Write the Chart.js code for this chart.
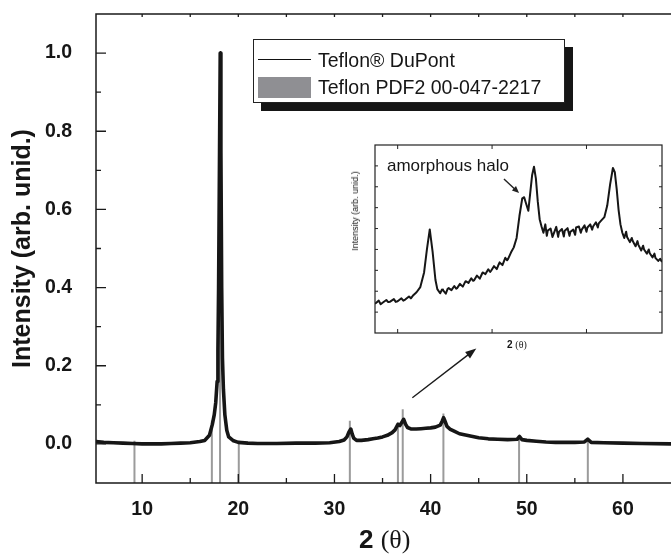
<!DOCTYPE html>
<html>
<head>
<meta charset="utf-8">
<script src="https://cdn.jsdelivr.net/npm/chart.js@4.4.1/dist/chart.umd.min.js"></script>
<style>
  body { margin: 0; background: #fff; }
  #wrap { position: relative; width: 671px; height: 555px; overflow: hidden; background: #fff; }
  canvas { position: absolute; }
  .lab { position: absolute; white-space: nowrap; font-family: "Liberation Sans", Arial, sans-serif; color: #161616; }
  .serif { font-family: "Liberation Serif", "Times New Roman", serif; font-weight: normal; }
</style>
</head>
<body>
<div id="wrap">
  <canvas id="main" width="671" height="555" style="left:0;top:0"></canvas>
  <canvas id="inset" width="331" height="220" style="left:340px;top:140px"></canvas>

  <div style="position:absolute;left:253px;top:39px;width:310px;height:62px;border:1px solid #222;background:#fff;box-shadow:8px 8px 0 #161616;">
    <div style="position:absolute;left:4px;top:19px;width:53px;border-top:1.5px solid #111"></div>
    <div style="position:absolute;left:4px;top:37px;width:53px;height:21px;background:#8f8f93"></div>
    <span class="lab" id="leg0" style="left:64px;top:9px;font-size:19.5px;line-height:22px"></span>
    <span class="lab" id="leg1" style="left:64px;top:36px;font-size:19.5px;line-height:22px"></span>
  </div>

  <div class="lab" style="left:359px;top:526px;font-size:26px;line-height:26px;font-weight:bold">2 <span class="serif">(&theta;)</span></div>

  <div class="lab" style="left:387px;top:156px;font-size:17px;line-height:20px">amorphous halo</div>
  <div class="lab" style="left:355px;top:211px;font-size:9px;line-height:10px;transform:translate(-50%,-50%) rotate(-90deg)">Intensity (arb. unid.)</div>
  <div class="lab" style="left:507px;top:339px;font-size:10px;line-height:12px;font-weight:bold">2 <span class="serif">(&theta;)</span></div>
</div>

<script>
// series names
const seriesNames = ['Teflon® DuPont', 'Teflon PDF2 00-047-2217'];

// measured pattern (2 theta, normalised intensity)
const mainTheta = [5.2, 6, 7, 8, 9, 10, 11, 12, 13, 14, 15, 16, 16.5, 17.0, 17.3, 17.5, 17.65, 17.8, 17.88, 17.95,
  18.05, 18.12, 18.19, 18.27, 18.35, 18.45, 18.6, 18.8, 19.0, 19.5, 20.0, 21, 22, 24, 26, 28, 29.5, 30.5, 31.0, 31.3,
  31.5, 31.7, 31.85, 32.0, 32.3, 32.8, 33.5, 34.0, 34.5, 35.0, 35.5, 36.0, 36.3, 36.6, 36.8, 37.0, 37.2, 37.4, 37.6, 38.0,
  38.5, 39.0, 39.5, 40.0, 40.5, 41.0, 41.2, 41.35, 41.5, 41.7, 42.0, 42.5, 43.0, 44.0, 45.0, 46.0, 47.0, 48.0, 49.0, 49.25,
  49.5, 50.0, 51.0, 52.0, 53.0, 54.0, 55.0, 56.0, 56.35, 56.7, 58.0, 60.0, 62.0, 65.0];
const mainIntensity = [0.006, 0.004, 0.003, 0.002, 0.001, 0.0, 0.0, 0.0, 0.001, 0.002, 0.003, 0.006, 0.009, 0.022, 0.05, 0.075, 0.105, 0.16, 0.24, 0.4,
  0.75, 1.0, 0.75, 0.4, 0.22, 0.14, 0.075, 0.035, 0.018, 0.008, 0.004, 0.002, 0.001, 0.001, 0.002, 0.002, 0.003, 0.006, 0.01, 0.018,
  0.03, 0.038, 0.025, 0.015, 0.009, 0.009, 0.011, 0.013, 0.015, 0.018, 0.022, 0.029, 0.036, 0.05, 0.047, 0.055, 0.063, 0.05, 0.042, 0.038,
  0.038, 0.039, 0.04, 0.041, 0.043, 0.048, 0.058, 0.067, 0.058, 0.045, 0.038, 0.032, 0.026, 0.021, 0.016, 0.013, 0.012, 0.011, 0.012, 0.019,
  0.011, 0.009, 0.007, 0.005, 0.004, 0.004, 0.004, 0.005, 0.012, 0.004, 0.003, 0.002, 0.001, 0.0];

// reference card PDF2 00-047-2217
const stickTheta = [9.2, 17.25, 18.1, 20.05, 31.6, 36.6, 37.1, 41.33, 49.2, 56.35];
const stickIntensity = [0.008, 0.06, 1.0, 0.008, 0.059, 0.055, 0.089, 0.078, 0.016, 0.013];
const stickBase = -0.1;

// inset: zoom of 29-44 degrees (arbitrary units)
const insetTheta = [28.8, 29.0, 29.1, 29.2, 29.4, 29.5, 29.6, 29.8, 29.9, 30.0, 30.2, 30.3, 30.4, 30.6, 30.7, 30.8, 31.0, 31.2, 31.4, 31.55,
  31.7, 31.85, 32.0, 32.1, 32.25, 32.35, 32.4, 32.55, 32.65, 32.7, 32.85, 33.0, 33.1, 33.15, 33.3, 33.45, 33.55, 33.6, 33.75, 33.9,
  34.0, 34.05, 34.2, 34.35, 34.45, 34.5, 34.65, 34.8, 34.9, 34.95, 35.1, 35.25, 35.35, 35.4, 35.55, 35.7, 35.8, 35.85, 36.0, 36.15,
  36.3, 36.45, 36.6, 36.7, 36.8, 36.92, 37.02, 37.12, 37.22, 37.32, 37.42, 37.52, 37.62, 37.72, 37.82, 37.9, 37.95, 38.1, 38.2, 38.25,
  38.4, 38.5, 38.55, 38.7, 38.8, 38.85, 39.0, 39.1, 39.15, 39.3, 39.4, 39.45, 39.6, 39.7, 39.75, 39.9, 40.0, 40.05, 40.2, 40.3,
  40.35, 40.5, 40.6, 40.65, 40.8, 40.95, 41.1, 41.25, 41.4, 41.5, 41.6, 41.7, 41.8, 41.9, 42.0, 42.1, 42.15, 42.3, 42.4, 42.45,
  42.6, 42.7, 42.75, 42.9, 43.0, 43.05, 43.2, 43.3, 43.35, 43.5, 43.6, 43.65, 43.8, 43.9, 44.0];
const insetIntensity = [1.40, 1.55, 1.38, 1.45, 1.58, 1.48, 1.50, 1.62, 1.49, 1.52, 1.66, 1.55, 1.60, 1.75, 1.66, 1.78, 1.95, 2.20, 2.90, 4.00,
  4.96, 3.90, 2.55, 2.10, 1.90, 2.08, 2.05, 1.88, 2.12, 2.15, 2.05, 2.25, 2.12, 2.15, 2.35, 2.22, 2.40, 2.48, 2.40, 2.62,
  2.50, 2.52, 2.75, 2.60, 2.80, 2.90, 2.82, 3.05, 2.92, 2.98, 3.20, 3.06, 3.28, 3.38, 3.25, 3.60, 3.48, 3.55, 3.85, 4.10,
  4.55, 5.60, 6.45, 6.50, 6.20, 5.85, 6.70, 7.55, 7.96, 7.40, 6.30, 5.45, 5.10, 4.80, 5.20, 4.65, 4.90, 5.00, 4.60, 4.72,
  5.08, 4.60, 4.85, 4.98, 4.62, 4.90, 5.02, 4.65, 4.85, 4.95, 4.70, 5.05, 5.10, 4.80, 4.95, 5.15, 4.85, 5.05, 5.20, 4.95,
  5.10, 5.30, 5.05, 5.25, 5.40, 5.55, 6.10, 7.10, 7.90, 7.70, 6.90, 5.90, 5.20, 4.80, 4.55, 4.85, 4.60, 4.35, 4.55, 4.40,
  4.15, 4.40, 4.22, 3.95, 4.18, 4.00, 3.80, 4.00, 3.82, 3.62, 3.80, 3.60, 3.45, 3.55, 3.40];

// axes
const xTickVals = [10, 20, 30, 40, 50, 60];
const xMinorVals = [15, 25, 35, 45, 55];
const yTickVals = [0, 0.2, 0.4, 0.6, 0.8, 1.0];
const yMinorVals = [0.1, 0.3, 0.5, 0.7, 0.9];
const insetXTicks = [30, 35, 40];
const insetYTicks = [1, 2, 3, 4, 5, 6, 7, 8];

// arrows (data coords)
const bigArrow = [[38.1, 0.118], [44.75, 0.244]];
const haloArrow = [[35.63, 7.37], [36.43, 6.70]];

document.getElementById('leg0').textContent = seriesNames[0];
document.getElementById('leg1').textContent = seriesNames[1];

const mainData = mainTheta.map((x, i) => ({x: x, y: mainIntensity[i]}));
const stickData = [];
stickTheta.forEach((x, i) => {
  stickData.push({x: x, y: stickBase}, {x: x, y: stickIntensity[i]}, {x: x, y: null});
});
const insetData = insetTheta.map((x, i) => ({x: x, y: insetIntensity[i]}));

function arrow(ctx, x1, y1, x2, y2, len, half) {
  const a = Math.atan2(y2 - y1, x2 - x1);
  ctx.beginPath();
  ctx.moveTo(x1, y1);
  ctx.lineTo(x2 - Math.cos(a) * len * 0.8, y2 - Math.sin(a) * len * 0.8);
  ctx.stroke();
  ctx.beginPath();
  ctx.moveTo(x2, y2);
  ctx.lineTo(x2 - Math.cos(a) * len - Math.sin(a) * half, y2 - Math.sin(a) * len + Math.cos(a) * half);
  ctx.lineTo(x2 - Math.cos(a) * len + Math.sin(a) * half, y2 - Math.sin(a) * len - Math.cos(a) * half);
  ctx.closePath();
  ctx.fill();
}

const mainFrame = {
  id: 'mainFrame',
  afterDraw(chart) {
    const ctx = chart.ctx, a = chart.chartArea;
    const xs = chart.scales.x, ys = chart.scales.y;
    ctx.save();
    ctx.strokeStyle = '#1a1a1a';
    ctx.fillStyle = '#1a1a1a';
    ctx.lineWidth = 1.5;
    ctx.beginPath();
    ctx.moveTo(a.right + 2, a.top); ctx.lineTo(a.left, a.top);
    ctx.lineTo(a.left, a.bottom); ctx.lineTo(a.right + 2, a.bottom);
    ctx.stroke();
    ctx.lineWidth = 1.3;
    ctx.beginPath();
    xTickVals.forEach(v => {
      const p = xs.getPixelForValue(v);
      ctx.moveTo(p, a.bottom); ctx.lineTo(p, a.bottom - 9);
      ctx.moveTo(p, a.top); ctx.lineTo(p, a.top + 3);
    });
    xMinorVals.forEach(v => {
      const p = xs.getPixelForValue(v);
      ctx.moveTo(p, a.bottom); ctx.lineTo(p, a.bottom - 5);
      ctx.moveTo(p, a.top); ctx.lineTo(p, a.top + 3);
    });
    yTickVals.forEach(v => {
      const p = ys.getPixelForValue(v);
      ctx.moveTo(a.left, p); ctx.lineTo(a.left + 10, p);
    });
    yMinorVals.forEach(v => {
      const p = ys.getPixelForValue(v);
      ctx.moveTo(a.left, p); ctx.lineTo(a.left + 5, p);
    });
    ctx.stroke();
    ctx.lineWidth = 1.4;
    arrow(ctx, xs.getPixelForValue(bigArrow[0][0]), ys.getPixelForValue(bigArrow[0][1]),
      xs.getPixelForValue(bigArrow[1][0]), ys.getPixelForValue(bigArrow[1][1]), 11, 4);
    ctx.restore();
  }
};

const insetFrame = {
  id: 'insetFrame',
  afterDraw(chart) {
    const ctx = chart.ctx, a = chart.chartArea;
    const xs = chart.scales.x, ys = chart.scales.y;
    ctx.save();
    ctx.strokeStyle = '#222';
    ctx.fillStyle = '#222';
    ctx.lineWidth = 1.2;
    ctx.strokeRect(a.left, a.top, a.right - a.left, a.bottom - a.top);
    ctx.lineWidth = 1;
    ctx.beginPath();
    insetXTicks.forEach(v => {
      const p = xs.getPixelForValue(v);
      ctx.moveTo(p, a.bottom); ctx.lineTo(p, a.bottom - 4);
      ctx.moveTo(p, a.top); ctx.lineTo(p, a.top + 4);
    });
    insetYTicks.forEach(v => {
      const p = ys.getPixelForValue(v);
      ctx.moveTo(a.left, p); ctx.lineTo(a.left + 3, p);
      ctx.moveTo(a.right, p); ctx.lineTo(a.right - 3, p);
    });
    ctx.stroke();
    ctx.lineWidth = 1.4;
    arrow(ctx, xs.getPixelForValue(haloArrow[0][0]), ys.getPixelForValue(haloArrow[0][1]),
      xs.getPixelForValue(haloArrow[1][0]), ys.getPixelForValue(haloArrow[1][1]), 7, 3);
    ctx.restore();
  }
};

const tickFont = {family: '"Liberation Sans", Arial, sans-serif', weight: 'bold', size: 19.5};

new Chart(document.getElementById('main'), {
  type: 'line',
  data: {
    datasets: [
      {label: seriesNames[0], data: mainData, borderColor: '#161616', borderWidth: 3.6, pointRadius: 0,
        borderJoinStyle: 'round', borderCapStyle: 'round', order: 0},
      {label: seriesNames[1], data: stickData, borderColor: '#9b9b9b', borderWidth: 2, pointRadius: 0, spanGaps: false, order: 1}
    ]
  },
  options: {
    responsive: false,
    animation: false,
    devicePixelRatio: 1,
    layout: {padding: {top: 14, right: 0, left: 0, bottom: 0}},
    plugins: {legend: {display: false}, tooltip: {enabled: false}},
    scales: {
      x: {
        type: 'linear', min: 5.2, max: 65,
        grid: {display: false}, border: {display: false},
        afterBuildTicks: s => { s.ticks = xTickVals.map(v => ({value: v})); },
        afterFit: s => { s.height = 72; s.paddingLeft = 0; s.paddingRight = 0; },
        ticks: {font: tickFont, color: '#161616', padding: 7, maxRotation: 0}
      },
      y: {
        type: 'linear', min: -0.1, max: 1.1,
        grid: {display: false}, border: {display: false},
        afterBuildTicks: s => { s.ticks = yTickVals.map(v => ({value: v})); },
        afterFit: s => { s.width = 96; s.paddingTop = 0; s.paddingBottom = 0; },
        ticks: {font: tickFont, color: '#161616', padding: 16, callback: v => v.toFixed(1)},
        title: {
          display: true, text: 'Intensity (arb. unid.)', color: '#161616',
          font: {family: '"Liberation Sans", Arial, sans-serif', weight: 'bold', size: 25},
          padding: {top: 8, bottom: 0}
        }
      }
    }
  },
  plugins: [mainFrame]
});

new Chart(document.getElementById('inset'), {
  type: 'line',
  data: {
    datasets: [
      {label: seriesNames[0], data: insetData, borderColor: '#161616', borderWidth: 2, pointRadius: 0, borderJoinStyle: 'round'}
    ]
  },
  options: {
    responsive: false,
    animation: false,
    devicePixelRatio: 1,
    layout: {padding: {top: 5, right: 9, left: 35, bottom: 27}},
    plugins: {legend: {display: false}, tooltip: {enabled: false}},
    scales: {
      x: {type: 'linear', min: 28.8, max: 44, display: false},
      y: {type: 'linear', min: 0, max: 9, display: false}
    }
  },
  plugins: [insetFrame]
});
</script>
</body>
</html>
